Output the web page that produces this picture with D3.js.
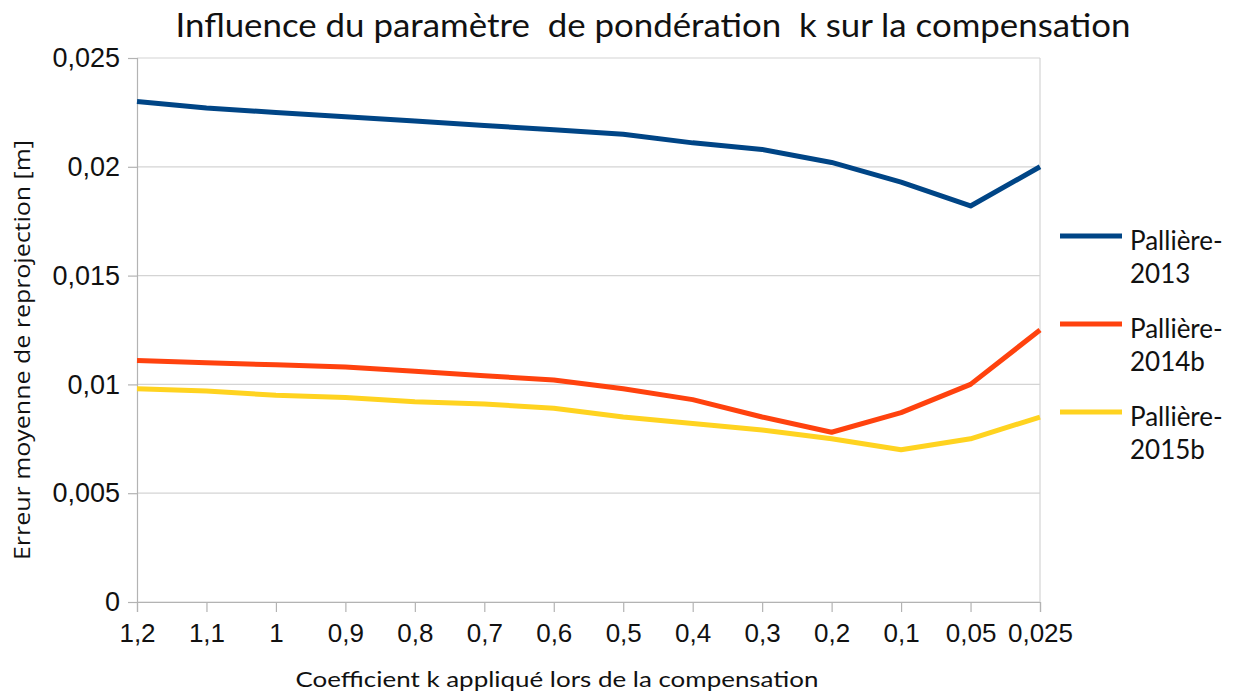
<!DOCTYPE html>
<html>
<head>
<meta charset="utf-8">
<script src="https://cdn.jsdelivr.net/npm/d3@7"></script>
<style>
  html, body { margin: 0; padding: 0; background: #fff; }
  svg { display: block; }
  text { white-space: pre; }
</style>
</head>
<body>
<svg id="chart" width="1242" height="699"></svg>
<script>
// Coefficient k (categories, left to right)
const kLabels = ["1,2", "1,1", "1", "0,9", "0,8", "0,7", "0,6", "0,5", "0,4", "0,3", "0,2", "0,1", "0,05", "0,025"];

// Mean reprojection error [m] per dataset
const pal2013  = [0.0230, 0.0227, 0.0225, 0.0223, 0.0221, 0.0219, 0.0217, 0.0215, 0.0211, 0.0208, 0.0202, 0.0193, 0.0182, 0.0200];
const pal2014b = [0.0111, 0.0110, 0.0109, 0.0108, 0.0106, 0.0104, 0.0102, 0.0098, 0.0093, 0.0085, 0.0078, 0.0087, 0.0100, 0.0125];
const pal2015b = [0.0098, 0.0097, 0.0095, 0.0094, 0.0092, 0.0091, 0.0089, 0.0085, 0.0082, 0.0079, 0.0075, 0.0070, 0.0075, 0.0085];

const yTicks = [0, 0.005, 0.01, 0.015, 0.02, 0.025];
const yTickLabels = ["0", "0,005", "0,01", "0,015", "0,02", "0,025"];

const seriesNames = [["Pallière-", "2013"], ["Pallière-", "2014b"], ["Pallière-", "2015b"]];
const seriesData = [pal2013, pal2014b, pal2015b];
const seriesColors = ["#004586", "#ff420e", "#ffd320"];

const svg = d3.select("#chart");
const plot = { left: 137, right: 1040, top: 58, bottom: 602 };

const x = d3.scalePoint().domain(kLabels).range([plot.left, plot.right]);
const y = d3.scaleLinear().domain([0, 0.025]).range([plot.bottom, plot.top]);

const gridColor = "#d4d4d4";
const axisColor = "#b3b3b3";

// horizontal grid
svg.append("g").selectAll("line").data(yTicks).join("line")
  .attr("x1", plot.left).attr("x2", plot.right)
  .attr("y1", d => y(d)).attr("y2", d => y(d))
  .attr("stroke", gridColor).attr("stroke-width", 1.2);

// right border
svg.append("line")
  .attr("x1", plot.right).attr("x2", plot.right)
  .attr("y1", plot.top).attr("y2", plot.bottom)
  .attr("stroke", gridColor).attr("stroke-width", 1.2);

// y axis
const yAxis = d3.axisLeft(y).tickValues(yTicks)
  .tickFormat((d, i) => yTickLabels[i]).tickSize(9).tickPadding(8);
const gy = svg.append("g").attr("transform", `translate(${plot.left},0)`).call(yAxis);
gy.select(".domain").attr("stroke", axisColor).attr("stroke-width", 1.2);
gy.selectAll(".tick line").attr("stroke", axisColor).attr("stroke-width", 1.2);
gy.selectAll(".tick text")
  .attr("font-family", "'Liberation Sans', Arial, sans-serif")
  .attr("font-size", 27).attr("fill", "#111");

// x axis
const xAxis = d3.axisBottom(x).tickSize(10).tickPadding(12);
const gx = svg.append("g").attr("transform", `translate(0,${plot.bottom})`).call(xAxis);
gx.select(".domain").attr("stroke", axisColor).attr("stroke-width", 1.2);
gx.selectAll(".tick line").attr("stroke", axisColor).attr("stroke-width", 1.2);
gx.selectAll(".tick text")
  .attr("font-family", "'Liberation Sans', Arial, sans-serif")
  .attr("font-size", 26).attr("fill", "#111");

// series lines
const line = d3.line().x((d, i) => x(kLabels[i])).y(d => y(d));
svg.append("g").selectAll("path").data(seriesData).join("path")
  .attr("d", d => line(d))
  .attr("fill", "none")
  .attr("stroke", (d, i) => seriesColors[i])
  .attr("stroke-width", 5)
  .attr("stroke-linejoin", "round");

// title
svg.append("text")
  .attr("x", 653).attr("y", 37)
  .attr("text-anchor", "middle")
  .attr("font-family", "Lato, 'Open Sans', sans-serif")
  .attr("font-size", 32).attr("fill", "#111")
  .attr("textLength", 955).attr("lengthAdjust", "spacingAndGlyphs")
  .text("Influence du paramètre  de pondération  k sur la compensation");

// axis titles
svg.append("text")
  .attr("transform", "translate(30,350) rotate(-90)")
  .attr("text-anchor", "middle")
  .attr("font-family", "'Open Sans', sans-serif")
  .attr("font-size", 22).attr("fill", "#111")
  .attr("textLength", 420).attr("lengthAdjust", "spacingAndGlyphs")
  .text("Erreur moyenne de reprojection [m]");

svg.append("text")
  .attr("x", 557).attr("y", 687)
  .attr("text-anchor", "middle")
  .attr("font-family", "Lato, 'Open Sans', sans-serif")
  .attr("font-size", 22).attr("fill", "#111")
  .attr("textLength", 523).attr("lengthAdjust", "spacingAndGlyphs")
  .text("Coefficient k appliqué lors de la compensation");

// legend
const legendY = [236, 324, 412];
const lg = svg.append("g").selectAll("g").data(seriesNames).join("g")
  .attr("transform", (d, i) => `translate(1060,${legendY[i]})`);
lg.append("line")
  .attr("x1", 0).attr("x2", 62).attr("y1", 0).attr("y2", 0)
  .attr("stroke", (d, i) => seriesColors[i]).attr("stroke-width", 5);
lg.append("text")
  .attr("x", 70).attr("y", 14)
  .attr("font-family", "Lato, 'Open Sans', sans-serif")
  .attr("font-size", 26).attr("fill", "#111")
  .text(d => d[0]);
lg.append("text")
  .attr("x", 70).attr("y", 47)
  .attr("font-family", "Lato, 'Open Sans', sans-serif")
  .attr("font-size", 26).attr("fill", "#111")
  .text(d => d[1]);
</script>
</body>
</html>
